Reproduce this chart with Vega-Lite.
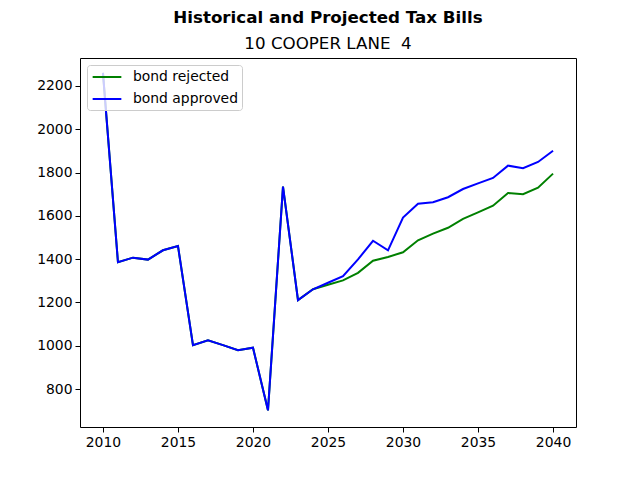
{
  "$schema": "https://vega.github.io/schema/vega-lite/v6.json",
  "width": 496,
  "height": 369,
  "autosize": {"type": "none"},
  "padding": {"left": 80, "top": 58, "right": 64, "bottom": 53},
  "background": "white",
  "title": {
    "text": "Historical and Projected Tax Bills",
    "subtitle": "10 COOPER LANE \u00a04",
    "font": "DejaVu Sans",
    "fontSize": 16.7,
    "fontWeight": "bold",
    "color": "black",
    "subtitleFont": "DejaVu Sans",
    "subtitleFontSize": 16.7,
    "subtitleColor": "black",
    "subtitlePadding": 10,
    "anchor": "middle",
    "offset": 5
  },
  "config": {
    "view": {"stroke": "black", "strokeWidth": 1},
    "axis": {
      "grid": false,
      "domain": false,
      "tickColor": "black",
      "tickSize": 5,
      "labelFont": "DejaVu Sans",
      "labelFontSize": 13.9,
      "labelColor": "black",
      "labelPadding": 3,
      "title": null
    },
    "legend": {
      "labelFont": "DejaVu Sans",
      "labelFontSize": 13.9,
      "labelColor": "black"
    }
  },
  "data": {
    "values": [
      {"year": 2010, "scenario": "bond rejected", "value": 2260},
      {"year": 2011, "scenario": "bond rejected", "value": 1386},
      {"year": 2012, "scenario": "bond rejected", "value": 1407},
      {"year": 2013, "scenario": "bond rejected", "value": 1398},
      {"year": 2014, "scenario": "bond rejected", "value": 1441},
      {"year": 2015, "scenario": "bond rejected", "value": 1461},
      {"year": 2016, "scenario": "bond rejected", "value": 1003},
      {"year": 2017, "scenario": "bond rejected", "value": 1025},
      {"year": 2018, "scenario": "bond rejected", "value": 1003},
      {"year": 2019, "scenario": "bond rejected", "value": 980},
      {"year": 2020, "scenario": "bond rejected", "value": 991},
      {"year": 2021, "scenario": "bond rejected", "value": 702},
      {"year": 2022, "scenario": "bond rejected", "value": 1735},
      {"year": 2023, "scenario": "bond rejected", "value": 1211},
      {"year": 2024, "scenario": "bond rejected", "value": 1261},
      {"year": 2025, "scenario": "bond rejected", "value": 1282},
      {"year": 2026, "scenario": "bond rejected", "value": 1302},
      {"year": 2027, "scenario": "bond rejected", "value": 1337},
      {"year": 2028, "scenario": "bond rejected", "value": 1393},
      {"year": 2029, "scenario": "bond rejected", "value": 1410},
      {"year": 2030, "scenario": "bond rejected", "value": 1432},
      {"year": 2031, "scenario": "bond rejected", "value": 1487},
      {"year": 2032, "scenario": "bond rejected", "value": 1518},
      {"year": 2033, "scenario": "bond rejected", "value": 1545},
      {"year": 2034, "scenario": "bond rejected", "value": 1586},
      {"year": 2035, "scenario": "bond rejected", "value": 1616},
      {"year": 2036, "scenario": "bond rejected", "value": 1647},
      {"year": 2037, "scenario": "bond rejected", "value": 1706},
      {"year": 2038, "scenario": "bond rejected", "value": 1700},
      {"year": 2039, "scenario": "bond rejected", "value": 1730},
      {"year": 2040, "scenario": "bond rejected", "value": 1795},
      {"year": 2010, "scenario": "bond approved", "value": 2260},
      {"year": 2011, "scenario": "bond approved", "value": 1386},
      {"year": 2012, "scenario": "bond approved", "value": 1407},
      {"year": 2013, "scenario": "bond approved", "value": 1398},
      {"year": 2014, "scenario": "bond approved", "value": 1441},
      {"year": 2015, "scenario": "bond approved", "value": 1461},
      {"year": 2016, "scenario": "bond approved", "value": 1003},
      {"year": 2017, "scenario": "bond approved", "value": 1025},
      {"year": 2018, "scenario": "bond approved", "value": 1003},
      {"year": 2019, "scenario": "bond approved", "value": 980},
      {"year": 2020, "scenario": "bond approved", "value": 991},
      {"year": 2021, "scenario": "bond approved", "value": 702},
      {"year": 2022, "scenario": "bond approved", "value": 1735},
      {"year": 2023, "scenario": "bond approved", "value": 1211},
      {"year": 2024, "scenario": "bond approved", "value": 1261},
      {"year": 2025, "scenario": "bond approved", "value": 1291},
      {"year": 2026, "scenario": "bond approved", "value": 1321},
      {"year": 2027, "scenario": "bond approved", "value": 1399},
      {"year": 2028, "scenario": "bond approved", "value": 1485},
      {"year": 2029, "scenario": "bond approved", "value": 1441},
      {"year": 2030, "scenario": "bond approved", "value": 1592},
      {"year": 2031, "scenario": "bond approved", "value": 1656},
      {"year": 2032, "scenario": "bond approved", "value": 1663},
      {"year": 2033, "scenario": "bond approved", "value": 1686},
      {"year": 2034, "scenario": "bond approved", "value": 1724},
      {"year": 2035, "scenario": "bond approved", "value": 1750},
      {"year": 2036, "scenario": "bond approved", "value": 1775},
      {"year": 2037, "scenario": "bond approved", "value": 1832},
      {"year": 2038, "scenario": "bond approved", "value": 1820},
      {"year": 2039, "scenario": "bond approved", "value": 1849},
      {"year": 2040, "scenario": "bond approved", "value": 1901}
    ]
  },
  "encoding": {
    "x": {
      "field": "year",
      "type": "quantitative",
      "scale": {"domain": [2008.47, 2041.53], "nice": false, "zero": false},
      "axis": {"values": [2010, 2015, 2020, 2025, 2030, 2035, 2040], "format": "d"}
    },
    "y": {
      "field": "value",
      "type": "quantitative",
      "scale": {"domain": [625, 2329], "nice": false, "zero": false},
      "axis": {"values": [800, 1000, 1200, 1400, 1600, 1800, 2000, 2200], "format": "d"}
    },
    "color": {
      "field": "scenario",
      "type": "nominal",
      "scale": {"domain": ["bond rejected", "bond approved"], "range": ["#008000", "#0000ff"]},
      "legend": {
        "title": null,
        "orient": "none",
        "legendX": 7,
        "legendY": 7,
        "symbolType": "M-2.05,0H2.05",
        "symbolSize": 196,
        "symbolStrokeWidth": 2,
        "symbolFillColor": "transparent",
        "symbolOffset": 8,
        "labelOffset": 18,
        "padding": 4,
        "rowPadding": 7,
        "fillColor": "rgba(255,255,255,0.8)",
        "strokeColor": "#cccccc",
        "cornerRadius": 3
      }
    }
  },
  "layer": [
    {
      "transform": [{"filter": "datum.scenario === 'bond rejected'"}],
      "mark": {"type": "line", "strokeWidth": 2, "clip": true}
    },
    {
      "transform": [{"filter": "datum.scenario === 'bond approved'"}],
      "mark": {"type": "line", "strokeWidth": 2, "clip": true}
    }
  ]
}
